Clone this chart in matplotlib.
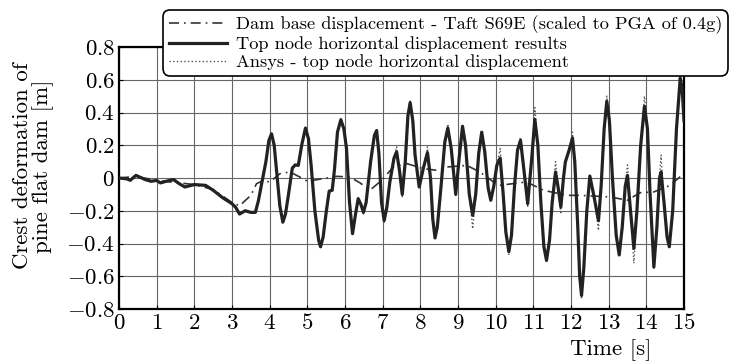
import matplotlib
matplotlib.use('Agg')
import matplotlib.pyplot as plt

plt.rcParams['font.family'] = 'cmr10'
plt.rcParams['mathtext.fontset'] = 'cm'
plt.rcParams['axes.unicode_minus'] = False
plt.rcParams['axes.formatter.use_mathtext'] = True

# top node horizontal displacement
top_t = [0.0, 0.2, 0.3, 0.45, 0.7, 0.85, 1.0, 1.1, 1.25, 1.45, 1.6, 1.75, 2.0, 2.3, 2.5,
         2.75, 3.0, 3.1, 3.2, 3.35, 3.5, 3.62, 3.7, 3.8, 3.9, 3.98, 4.05, 4.12, 4.2, 4.27,
         4.35, 4.42, 4.5, 4.6, 4.68, 4.76, 4.85, 4.95, 5.03, 5.1, 5.2, 5.3, 5.35, 5.42, 5.5,
         5.58, 5.66, 5.72, 5.8, 5.89, 5.97, 6.04, 6.12, 6.2, 6.28, 6.35, 6.42, 6.49, 6.56,
         6.68, 6.78, 6.84, 6.9, 6.97, 7.04, 7.11, 7.19, 7.3, 7.37, 7.45, 7.52, 7.6, 7.67,
         7.73, 7.8, 7.86, 7.97, 8.08, 8.19, 8.27, 8.33, 8.39, 8.45, 8.55, 8.65, 8.73, 8.82,
         8.94, 9.03, 9.12, 9.2, 9.3, 9.39, 9.47, 9.55, 9.63, 9.71, 9.8, 9.87, 9.95, 10.03,
         10.12, 10.2, 10.27, 10.35, 10.42, 10.5, 10.58, 10.66, 10.75, 10.85, 10.95, 11.04,
         11.12, 11.2, 11.28, 11.35, 11.43, 11.5, 11.59, 11.66, 11.73, 11.8, 11.85, 11.95,
         12.04, 12.1, 12.18, 12.23, 12.28, 12.34, 12.42, 12.5, 12.6, 12.73, 12.8, 12.88,
         12.95, 13.02, 13.1, 13.2, 13.28, 13.36, 13.44, 13.5, 13.58, 13.67, 13.75, 13.85,
         13.95, 14.03, 14.1, 14.2, 14.28, 14.35, 14.39, 14.47, 14.55, 14.61, 14.7, 14.8,
         14.9, 14.95, 15.0]
top_v = [0.0, -0.005, -0.014, 0.016, -0.01, -0.02, -0.015, -0.03, -0.02, -0.01, -0.035,
         -0.055, -0.04, -0.045, -0.075, -0.12, -0.157, -0.18, -0.22, -0.2, -0.21, -0.21,
         -0.14, -0.02, 0.1, 0.23, 0.27, 0.2, 0.0, -0.17, -0.27, -0.22, -0.1, 0.06, 0.08,
         0.077, 0.2, 0.305, 0.24, 0.08, -0.2, -0.38, -0.42, -0.36, -0.21, -0.08, -0.075,
         0.05, 0.28, 0.356, 0.3, 0.18, -0.15, -0.34, -0.22, -0.126, -0.16, -0.21, -0.15,
         0.1, 0.26, 0.29, 0.15, -0.15, -0.26, -0.18, -0.025, 0.12, 0.16, 0.04, -0.1, 0.1,
         0.38, 0.46, 0.35, 0.14, -0.055, 0.06, 0.155, 0.0, -0.25, -0.366, -0.3, -0.05, 0.22,
         0.305, 0.18, -0.1, 0.12, 0.316, 0.2, -0.1, -0.228, -0.1, 0.15, 0.28, 0.16, -0.06,
         -0.136, -0.05, 0.077, 0.122, -0.1, -0.33, -0.45, -0.35, -0.05, 0.17, 0.23, 0.05,
         -0.157, 0.1, 0.358, 0.2, -0.15, -0.42, -0.503, -0.38, -0.15, 0.037, -0.06, -0.177,
         0.0, 0.098, 0.17, 0.244, 0.1, -0.3, -0.6, -0.717, -0.55, -0.2, 0.012, -0.1, -0.26,
         -0.05, 0.3, 0.468, 0.35, 0.0, -0.35, -0.47, -0.3, -0.05, 0.016, -0.2, -0.43, -0.2,
         0.2, 0.438, 0.3, -0.1, -0.544, -0.3, 0.0, 0.037, -0.15, -0.36, -0.42, -0.2, 0.3,
         0.61, 0.55, 0.35]

# Ansys result, same time base, slightly larger peaks
ansys_v = [0.0, -0.005, -0.014, 0.016, -0.01, -0.02, -0.015, -0.03, -0.02, -0.01, -0.035,
           -0.055, -0.04, -0.045, -0.075, -0.12, -0.157, -0.18, -0.22, -0.2, -0.21, -0.21,
           -0.14, -0.02, 0.1, 0.23, 0.28, 0.2, 0.0, -0.17, -0.28, -0.22, -0.1, 0.06, 0.08,
           0.077, 0.2, 0.31, 0.24, 0.08, -0.2, -0.38, -0.43, -0.36, -0.21, -0.08, -0.075,
           0.05, 0.28, 0.36, 0.3, 0.18, -0.15, -0.35, -0.22, -0.126, -0.16, -0.22, -0.15,
           0.1, 0.26, 0.3, 0.15, -0.15, -0.27, -0.18, -0.025, 0.12, 0.19, 0.04, -0.12, 0.1,
           0.38, 0.47, 0.35, 0.14, -0.06, 0.06, 0.19, 0.0, -0.25, -0.37, -0.3, -0.05, 0.22,
           0.33, 0.18, -0.11, 0.12, 0.32, 0.2, -0.1, -0.31, -0.1, 0.15, 0.29, 0.16, -0.06,
           -0.14, -0.05, 0.077, 0.18, -0.1, -0.33, -0.47, -0.35, -0.05, 0.17, 0.25, 0.05,
           -0.18, 0.1, 0.43, 0.2, -0.15, -0.42, -0.51, -0.38, -0.15, 0.1, -0.06, -0.22,
           0.0, 0.098, 0.17, 0.28, 0.1, -0.3, -0.6, -0.74, -0.55, -0.2, 0.02, -0.1, -0.32,
           -0.05, 0.3, 0.5, 0.35, 0.0, -0.35, -0.47, -0.3, -0.05, 0.08, -0.2, -0.52, -0.2,
           0.2, 0.5, 0.3, -0.1, -0.55, -0.3, 0.0, 0.14, -0.15, -0.36, -0.43, -0.2, 0.3,
           0.62, 0.55, 0.35]

# dam base displacement, Taft S69E
base_t = [0.0, 0.45, 1.0, 1.6, 2.0, 2.5, 3.0, 3.2, 3.5, 3.65, 3.83, 4.0, 4.27, 4.54, 4.8,
          5.0, 5.42, 5.78, 6.13, 6.4, 6.66, 6.97, 7.28, 7.64, 8.08, 8.44, 8.7, 9.23, 9.58,
          9.94, 10.1, 10.82, 11.27, 11.9, 12.25, 13.05, 13.5, 13.83, 14.2, 14.63, 14.94, 15.0]
base_v = [0.0, 0.01, -0.015, -0.03, -0.04, -0.07, -0.15, -0.17, -0.106, -0.035, -0.015,
          -0.025, 0.026, 0.037, 0.006, -0.02, -0.004, 0.01, 0.006, -0.03, -0.075, -0.015,
          0.067, 0.088, 0.057, 0.047, 0.067, 0.077, 0.037, -0.024, -0.045, -0.024, -0.075,
          -0.106, -0.106, -0.116, -0.136, -0.09, -0.085, -0.045, 0.016, 0.02]

x_ticks = list(range(0, 16))
y_ticks = [-0.8, -0.6, -0.4, -0.2, 0, 0.2, 0.4, 0.6, 0.8]
y_labels = ['$-0.8$', '$-0.6$', '$-0.4$', '$-0.2$', '$0$', '$0.2$', '$0.4$', '$0.6$', '$0.8$']

fig = plt.figure(figsize=(7.3, 3.62), dpi=100)
ax = fig.add_axes([119 / 730, 1 - 309 / 362, 565 / 730, 262 / 362])

l1, = ax.plot(base_t, base_v, color='#333333', lw=1.2, ls=(0, (6, 3, 1, 3)), zorder=3)
l3, = ax.plot(top_t, ansys_v, color='#555555', lw=1.0, ls=':', zorder=2)
l2, = ax.plot(top_t, top_v, color='#222222', lw=2.3, zorder=4, solid_joinstyle='round')

ax.set_xlim(0, 15)
ax.set_ylim(-0.8, 0.8)
ax.set_xticks(x_ticks)
ax.set_xticklabels(['$%d$' % v for v in x_ticks])
ax.set_yticks(y_ticks)
ax.set_yticklabels(y_labels)
ax.tick_params(direction='in', length=3, labelsize=16.5, pad=3, color='black')
ax.grid(True, color='#666666', lw=0.8)
for s in ax.spines.values():
    s.set_linewidth(1.6)
    s.set_color('black')

fig.text(33 / 730, 1 - 166 / 362, 'Crest deformation of\npine flat dam [m]', rotation=90,
         ha='center', va='center', multialignment='center', fontsize=16.5, linespacing=1.0)
fig.text(611 / 730, 1 - 350 / 362, 'Time [s]', ha='center', va='center', fontsize=16.5)

leg = fig.legend([l1, l2, l3],
                 ['Dam base displacement - Taft S69E (scaled to PGA of 0.4g)',
                  'Top node horizontal displacement results',
                  'Ansys - top node horizontal displacement'],
                 loc='upper left', bbox_to_anchor=(163 / 730, 1 - 10 / 362),
                 borderaxespad=0, fontsize=13.2, handlelength=3.2, handletextpad=0.5,
                 labelspacing=0.12, borderpad=0.3, fancybox=True, framealpha=1,
                 edgecolor='black')
leg.get_frame().set_linewidth(1.2)
leg.get_frame().set_boxstyle('round', pad=0, rounding_size=0.4)

plt.savefig('out.png', dpi=100)
